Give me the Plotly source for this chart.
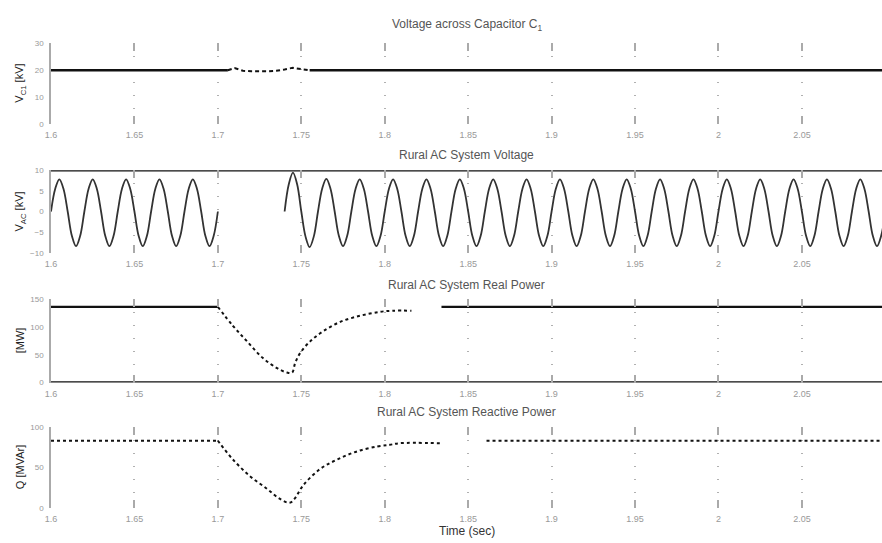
import plotly.graph_objects as go

# ---------------- data ----------------
x_ticks = [1.6, 1.65, 1.7, 1.75, 1.8, 1.85, 1.9, 1.95, 2.0, 2.05, 2.1]
x_tick_labels = ["1.6", "1.65", "1.7", "1.75", "1.8", "1.85", "1.9", "1.95", "2", "2.05", "2.1"]

# Voltage across capacitor (kV)
vdc_pre_t = [1.6, 1.706]
vdc_pre_v = [20, 20]
vdc_tr_t = [1.706, 1.71, 1.715, 1.72, 1.73, 1.735, 1.74, 1.745, 1.75, 1.755]
vdc_tr_v = [20, 20.8, 19.8, 19.6, 19.6, 19.8, 20.3, 20.9, 20.4, 20]
vdc_post_t = [1.755, 2.1]
vdc_post_v = [20, 20]
vdc_ticks = [0, 10, 20, 30]

# Rural AC system voltage (kV): peaks / troughs of each 50 Hz cycle,
# and the shape of one half cycle (fraction of the extreme)
vac_half_shape = [0.0, 0.7, 1.0, 0.7]
vac_seg1_start = 1.6
vac_seg1_peaks = [7.8, 7.8, 7.8, 7.8, 7.8]
vac_seg1_troughs = [-8.4, -8.4, -8.4, -8.4, -8.4]
vac_seg2_start = 1.74
vac_seg2_peaks = [9.4, 7.9, 7.8, 7.8, 7.8, 7.8, 7.8, 7.8, 7.8,
                  7.8, 7.8, 7.8, 7.8, 7.8, 7.8, 7.8, 7.8, 7.8]
vac_seg2_troughs = [-8.6, -8.4, -8.4, -8.4, -8.4, -8.4, -8.4, -8.4, -8.4,
                    -8.4, -8.4, -8.4, -8.4, -8.4, -8.4, -8.4, -8.4, -8.4]
vac_eighth_period = 0.0025
vac_limit_t = [1.6, 2.1]
vac_limit_v = [10, 10]
vac_ticks = [-10, -5, 0, 5, 10]

# Rural AC system real power (MW)
p_pre_t = [1.6, 1.7]
p_pre_v = [136, 136]
p_tr_t = [1.7, 1.709, 1.7175, 1.727, 1.7355, 1.7415, 1.7445, 1.7463, 1.7493,
          1.7553, 1.763, 1.7733, 1.7853, 1.797, 1.805, 1.816]
p_tr_v = [136, 102, 74, 44, 26, 18, 18, 35, 53, 74, 92, 109, 120, 127, 129, 129]
p_post_t = [1.834, 2.1]
p_post_v = [136, 136]
p_zero_t = [1.6, 2.1]
p_zero_v = [0, 0]
p_ticks = [0, 50, 100, 150]

# Rural AC system reactive power (MVAr)
q_pre_t = [1.6, 1.7]
q_pre_v = [83, 83]
q_tr_t = [1.7, 1.7015, 1.709, 1.719, 1.7295, 1.737, 1.743, 1.746, 1.751, 1.761,
          1.7715, 1.7835, 1.7955, 1.803, 1.809, 1.833]
q_tr_v = [83, 79, 60, 40, 24, 12, 7, 12, 28, 48, 60, 70, 76, 78, 80, 80]
q_post_t = [1.861, 2.1]
q_post_v = [83, 83]
q_ticks = [0, 50, 100]

titles = ["Voltage across Capacitor C<sub>1</sub>", "Rural AC System Voltage",
          "Rural AC System Real Power", "Rural AC System Reactive Power"]
ylabels = ["V<sub>C1</sub> [kV]", "V<sub>AC</sub> [kV]", "[MW]", "Q [MVAr]"]


def build_wave(start, peaks, troughs, dt):
    vals = []
    for pk, tr in zip(peaks, troughs):
        vals += [f * pk for f in vac_half_shape]
        vals += [f * tr for f in vac_half_shape]
    vals.append(0)
    ts = [start + i * dt for i in range(len(vals))]
    return ts, vals


# ---------------- layout geometry ----------------
W, H = 882, 543
L = 51
rows_px = [(40, 122), (169, 253), (300, 385), (430, 513)]
title_y_px = [21, 154, 286, 415]
label_y_px = [81, 211, 342, 471]

fig = go.Figure()
LINE = "#111111"


def add(t, v, ax, width=2.4, dash="solid", shape="linear", smooth=1.0, color=LINE):
    line = dict(color=color, width=width, dash=dash, shape=shape)
    if shape == "spline":
        line["smoothing"] = smooth
    fig.add_trace(go.Scatter(x=t, y=v, mode="lines", xaxis="x" + ax, yaxis="y" + ax,
                             line=line, showlegend=False, hoverinfo="skip"))


# subplot 1
add(vdc_pre_t, vdc_pre_v, "")
add(vdc_tr_t, vdc_tr_v, "", width=2, dash="4px,3px")
add(vdc_post_t, vdc_post_v, "")
# subplot 2
t1, v1 = build_wave(vac_seg1_start, vac_seg1_peaks, vac_seg1_troughs, vac_eighth_period)
t2, v2 = build_wave(vac_seg2_start, vac_seg2_peaks, vac_seg2_troughs, vac_eighth_period)
add(t1, v1, "2", width=1.8, shape="spline", color="#333333")
add(t2, v2, "2", width=1.8, shape="spline", color="#333333")
add(vac_limit_t, vac_limit_v, "2", width=2.6)
# subplot 3
add(p_pre_t, p_pre_v, "3")
add(p_tr_t, p_tr_v, "3", width=2, dash="dot", shape="spline")
add(p_post_t, p_post_v, "3")
add(p_zero_t, p_zero_v, "3", width=2.6)
# subplot 4
add(q_pre_t, q_pre_v, "4", width=2, dash="dot")
add(q_tr_t, q_tr_v, "4", width=2, dash="dot", shape="spline")
add(q_post_t, q_post_v, "4", width=2, dash="dot")

yranges = [[0, 30], [-10, 10], [0, 150], [0, 100]]
yticks = [vdc_ticks, vac_ticks, p_ticks, q_ticks]

font_fam = "Liberation Sans, Arial, sans-serif"
layout = dict(width=W, height=H, margin=dict(l=L, r=0, t=0, b=0),
              plot_bgcolor="white", paper_bgcolor="white",
              font=dict(family=font_fam, color="#333"))
annotations = []
for i, (top, bot) in enumerate(rows_px):
    sfx = "" if i == 0 else str(i + 1)
    xa = "xaxis" + sfx
    ya = "yaxis" + sfx
    layout[xa] = dict(domain=[0, 1], range=[1.6, 2.098], anchor="y" + sfx,
                      tickvals=x_ticks, ticktext=x_tick_labels,
                      showgrid=True, gridcolor="#b0b0b0", griddash="1px,12px", gridwidth=1.5,
                      ticks="inside", ticklen=8, tickcolor="#aaaaaa", tickwidth=1.5,
                      mirror="ticks", showline=False, zeroline=False,
                      ticklabelstandoff=4,
                      tickfont=dict(size=9, color="#999999"))
    layout[ya] = dict(domain=[1 - bot / H, 1 - top / H], range=yranges[i], anchor="x" + sfx,
                      tickvals=yticks[i], showgrid=False, zeroline=False,
                      showline=True, linecolor="#aaaaaa", linewidth=1.5,
                      ticks="", ticklabelstandoff=4,
                      tickfont=dict(size=8, color="#999999"))
    annotations.append(dict(text=titles[i], xref="paper", yref="paper",
                            x=0.5, y=1 - title_y_px[i] / H, showarrow=False,
                            xanchor="center", yanchor="middle",
                            font=dict(size=12, color="#555555")))
    annotations.append(dict(text=ylabels[i], xref="paper", yref="paper",
                            x=(20 - L) / (W - L), y=1 - label_y_px[i] / H, showarrow=False,
                            textangle=-90, xanchor="center", yanchor="middle",
                            font=dict(size=11, color="#222222")))
annotations.append(dict(text="Time (sec)", xref="paper", yref="paper",
                        x=0.5, y=1 - 536 / H, showarrow=False,
                        xanchor="center", yanchor="middle",
                        font=dict(size=12, color="#333333")))
layout["annotations"] = annotations
fig.update_layout(**layout)
fig.write_html("out.html")
